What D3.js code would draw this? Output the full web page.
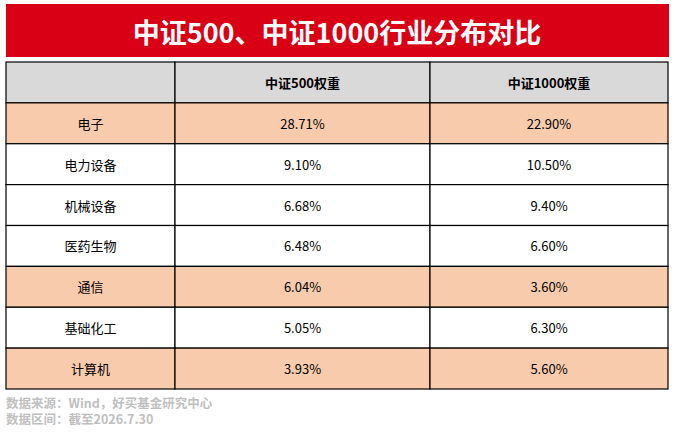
<!DOCTYPE html>
<html><head><meta charset="utf-8">
<script src="https://cdn.jsdelivr.net/npm/d3@7"></script>
<style>body{margin:0;background:#fff}</style>
</head><body>
<svg id="c" width="674" height="433"></svg>
<script>
const title = '中证500、中证1000行业分布对比'
const headers = ['', '中证500权重', '中证1000权重']
const industries = ['电子', '电力设备', '机械设备', '医药生物', '通信', '基础化工', '计算机']
const csi500 = ['28.71%', '9.10%', '6.68%', '6.48%', '6.04%', '5.05%', '3.93%']
const csi1000 = ['22.90%', '10.50%', '9.40%', '6.60%', '3.60%', '6.30%', '5.60%']
const highlighted = ['电子', '通信', '计算机']
const notes = ['数据来源：Wind，好买基金研究中心', '数据区间：截至2026.7.30']

const font = '"Microsoft YaHei","Noto Sans CJK SC",sans-serif'
const svg = d3.select('#c')

svg.append('rect').attr('x', 6).attr('y', 4).attr('width', 663).attr('height', 53).attr('fill', '#D90016')
svg.append('text').attr('x', 337).attr('y', 31).attr('text-anchor', 'middle').attr('dominant-baseline', 'central')
  .attr('fill', '#fff').attr('font-family', font).attr('font-weight', 'bold').attr('font-size', 27).text(title)

const x = d3.scaleOrdinal().domain([0, 1, 2]).range([6, 175, 430])
const colW = [169, 255, 238]
const y = d3.scaleBand().domain(d3.range(8)).range([62, 389])

const rows = [headers].concat(industries.map((d, i) => [d, csi500[i], csi1000[i]]))

const row = svg.selectAll('g.row').data(rows).enter().append('g').attr('class', 'row')
  .attr('transform', (d, i) => 'translate(0,' + y(i) + ')')

row.selectAll('g.cell').data((d, i) => d.map((v, j) => ({ v, j, i, row: d })))
  .enter().append('g').attr('class', 'cell')
  .each(function (d) {
    const g = d3.select(this)
    const fill = d.i === 0 ? '#D9D9D9' : (highlighted.includes(d.row[0]) ? '#F8CBAD' : '#fff')
    g.append('rect').attr('x', x(d.j)).attr('y', 0).attr('width', colW[d.j]).attr('height', y.bandwidth())
      .attr('fill', fill).attr('stroke', '#000').attr('stroke-width', 1.2)
    g.append('text').attr('x', x(d.j) + colW[d.j] / 2).attr('y', y.bandwidth() / 2)
      .attr('text-anchor', 'middle').attr('dominant-baseline', 'central')
      .attr('font-family', font).attr('font-size', 13).attr('fill', '#000')
      .attr('font-weight', d.i === 0 ? 'bold' : 'normal').text(d.v)
  })

svg.selectAll('text.note').data(notes).enter().append('text').attr('class', 'note')
  .attr('x', 6).attr('y', (d, i) => 402 + i * 16).attr('dominant-baseline', 'central')
  .attr('font-family', font).attr('font-weight', 'bold').attr('font-size', 12.5).attr('fill', '#BFBFBF').text(d => d)
</script>
</body></html>
